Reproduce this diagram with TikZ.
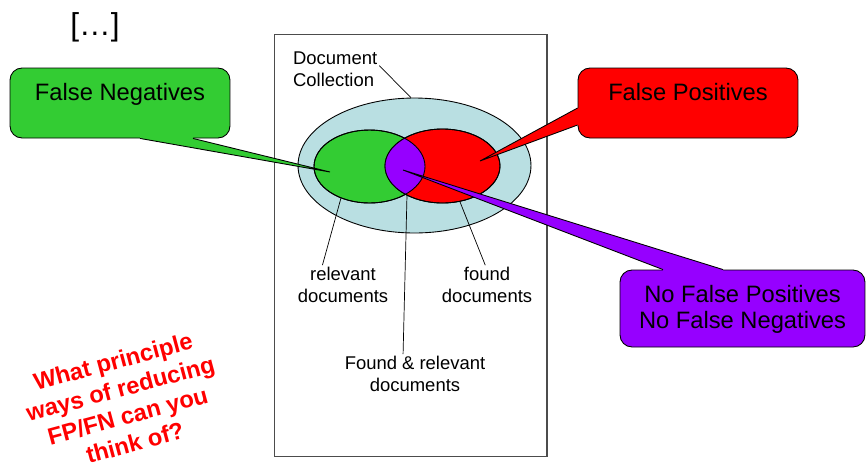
\documentclass[tikz,border=0pt]{standalone}
\usepackage{fontspec}
\setmainfont{Liberation Sans}
\usepackage{tikz}
\usetikzlibrary{shapes.geometric, positioning, calc}

\definecolor{collblue}{RGB}{185,223,226}
\definecolor{fngreen}{RGB}{51,204,51}
\definecolor{fpred}{RGB}{255,0,0}
\definecolor{okpurple}{RGB}{150,0,255}

\begin{document}
\begin{tikzpicture}[x=0.02cm, y=-0.02cm,
    set/.style={ellipse, draw, inner sep=0pt, line width=0.5pt},
    callbox/.style={rectangle, draw, rounded corners=0.24cm, inner sep=0pt, line width=0.5pt},
    calltext/.style={inner sep=0pt, align=center, font=\fontsize{13.5}{15.3}\selectfont},
    tag/.style={inner sep=1pt, align=center, font=\fontsize{10.5}{12.5}\selectfont},
    leader/.style={draw, line width=0.4pt},
    tail/.style={line width=0.5pt}
]
\useasboundingbox (0,0) rectangle (866,468);

% Collection frame
\node[draw=black!70, line width=0.6pt, minimum width=5.46cm, minimum height=8.46cm, inner sep=0pt] (frame) at (410.5,245.5) {};

% Venn
\node[set, fill=collblue, minimum width=4.66cm, minimum height=2.7cm] (coll) at (414.5,165.5) {};
\node[set, fill=fngreen, minimum width=2.22cm, minimum height=1.46cm] (rel) at (369.5,166.5) {};
\node[set, fill=fpred, minimum width=2.3cm, minimum height=1.48cm] (found) at (442.5,166) {};
\begin{scope}
  \clip (369.5,166.5) ellipse [x radius=55.5, y radius=36.5];
  \fill[okpurple] (442.5,166) ellipse [x radius=57.5, y radius=37];
\end{scope}
\draw[line width=0.5pt] (369.5,166.5) ellipse [x radius=55.5, y radius=36.5];
\draw[line width=0.5pt] (442.5,166) ellipse [x radius=57.5, y radius=37];
\coordinate (lensbot) at (407,195);

% Labels
\node[tag, align=left, anchor=north west] (dc) at (291,50) {Document\\Collection};
\node[tag] (reltag) at (343,285) {relevant\\documents};
\node[tag] (foundtag) at (487,285) {found\\documents};
\node[tag] (bothtag) at (415,374) {Found \& relevant\\documents};

\draw[leader] (dc.5) -- (coll.93);
\draw[leader] (rel.228) -- (reltag.136);
\draw[leader] (found.296) -- (foundtag.95);
\draw[leader] (lensbot) -- (bothtag.121);

% False negatives callout
\node[callbox, fill=fngreen, minimum width=4.4cm, minimum height=1.4cm] (fnbox) at (120,103) {};
\node[calltext, below=0.3cm of fnbox.north] (fntext) {False Negatives};
\coordinate (fntip) at (330,172);
\fill[fngreen] ($(fnbox.south)+(20,-3)$) -- ($(fnbox.south)+(20,0)$) -- (fntip) -- ($(fnbox.south)+(73,0)$) -- ($(fnbox.south)+(73,-3)$) -- cycle;
\draw[tail] ($(fnbox.south)+(20,0)$) -- (fntip) -- ($(fnbox.south)+(73,0)$);

% False positives callout
\node[callbox, fill=fpred, minimum width=4.4cm, minimum height=1.4cm] (fpbox) at (688,103) {};
\node[calltext, below=0.3cm of fpbox.north] (fptext) {False Positives};
\coordinate (fptip) at (480,161);
\fill[fpred] ($(fpbox.west)+(3,5)$) -- ($(fpbox.west)+(0,5)$) -- (fptip) -- ($(fpbox.west)+(0,22)$) -- ($(fpbox.west)+(3,22)$) -- cycle;
\draw[tail] ($(fpbox.west)+(0,5)$) -- (fptip) -- ($(fpbox.west)+(0,22)$);

% Neither callout
\node[callbox, fill=okpurple, minimum width=4.9cm, minimum height=1.54cm] (okbox) at (742.5,308.5) {};
\node[calltext, below=0.3cm of okbox.north] (oktext) {No False Positives\\No False Negatives};
\coordinate (oktip) at (403,170);
\fill[okpurple] ($(okbox.north)+(-79.5,3)$) -- ($(okbox.north)+(-79.5,0)$) -- (oktip) -- ($(okbox.north)+(-19.5,0)$) -- ($(okbox.north)+(-19.5,3)$) -- cycle;
\draw[tail] ($(okbox.north)+(-79.5,0)$) -- (oktip) -- ($(okbox.north)+(-19.5,0)$);

% Question
\node[text=fpred, align=center, rotate=15, font=\bfseries\fontsize{13.5}{16}\selectfont] (quest) at (124,402) {What principle\\ways of reducing\\FP/FN can you\\think of?};

\node[font=\fontsize{18}{20}\selectfont] (dots) at (95,27) {[…]};

\end{tikzpicture}
\end{document}
